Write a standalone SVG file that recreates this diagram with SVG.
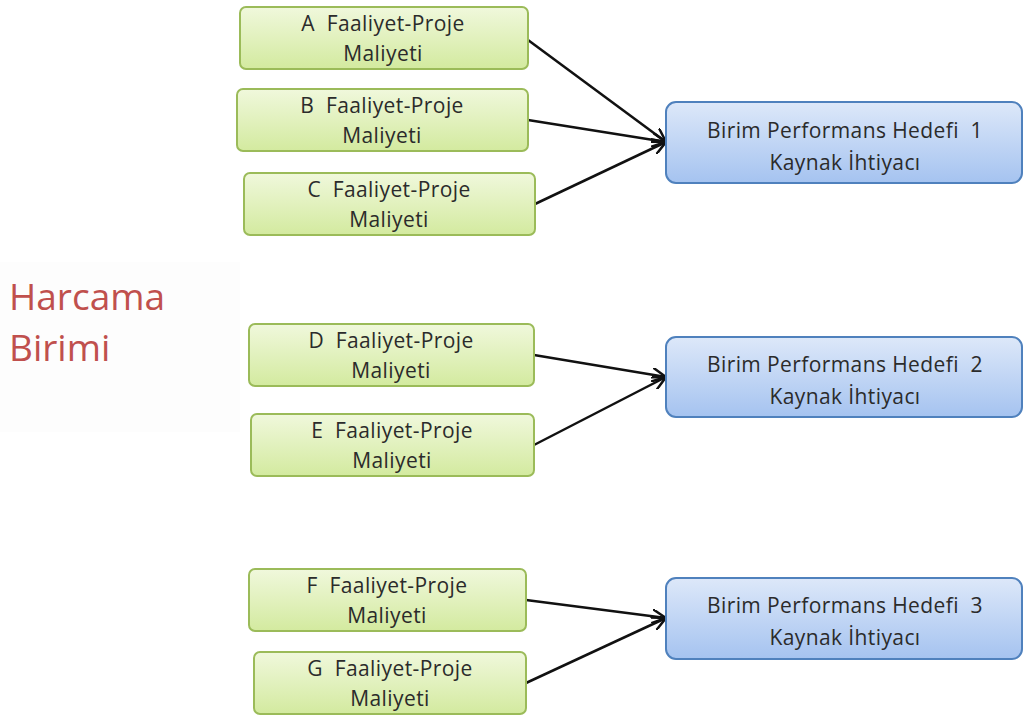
<svg xmlns="http://www.w3.org/2000/svg" width="1024" height="716" viewBox="0 0 1024 716">
<defs>
<linearGradient id="gg" x1="0" y1="0" x2="0" y2="1"><stop offset="0" stop-color="#f0f8dc"/><stop offset="1" stop-color="#d3ea9f"/></linearGradient>
<linearGradient id="bg" x1="0" y1="0" x2="0" y2="1"><stop offset="0" stop-color="#dde8f9"/><stop offset="1" stop-color="#a5c3f0"/></linearGradient>
<marker id="ah" viewBox="0 0 10 10" refX="10" refY="5" markerWidth="14" markerHeight="14" markerUnits="userSpaceOnUse" orient="auto"><path d="M0,0 L10,5 L0,10" fill="none" stroke="#111" stroke-width="1.8"/></marker>
<style>
.g{fill:url(#gg);stroke:#9bbb59;stroke-width:2}
.b{fill:url(#bg);stroke:#4f81bd;stroke-width:2}
.t{font-family:"Open Sans","Liberation Sans",sans-serif;font-size:21px;letter-spacing:0.4px;fill:#2b2b2b;text-anchor:middle;white-space:pre}
.c line{stroke:#111;stroke-width:2.5;marker-end:url(#ah)}
</style>
</defs>
<rect width="1024" height="716" fill="#fff"/>
<rect x="0" y="262" width="240" height="170" fill="#fdfdfd"/>
<text x="9" y="310" font-family="Open Sans, Liberation Sans, sans-serif" font-size="37" fill="#c0504d">Harcama</text>
<text x="9" y="361" font-family="Open Sans, Liberation Sans, sans-serif" font-size="37" fill="#c0504d">Birimi</text>
<g class="c">
<line x1="528" y1="40" x2="666" y2="142"/>
<line x1="528" y1="120" x2="666" y2="142"/>
<line x1="535" y1="204" x2="666" y2="142"/>
<line x1="534" y1="355" x2="666" y2="377"/>
<line x1="534" y1="445" x2="666" y2="377"/>
<line x1="526" y1="600" x2="666" y2="618"/>
<line x1="526" y1="683" x2="666" y2="618"/>
</g>
<g id="nA"><rect class="g" x="240" y="7" width="288" height="62" rx="6"/><text class="t" x="383" y="31" xml:space="preserve">A  Faaliyet-Proje</text><text class="t" x="383" y="61">Maliyeti</text></g>
<g id="nB"><rect class="g" x="237" y="89" width="291" height="62" rx="6"/><text class="t" x="382" y="113" xml:space="preserve">B  Faaliyet-Proje</text><text class="t" x="382" y="143">Maliyeti</text></g>
<g id="nC"><rect class="g" x="244" y="173" width="291" height="62" rx="6"/><text class="t" x="389" y="197" xml:space="preserve">C  Faaliyet-Proje</text><text class="t" x="389" y="227">Maliyeti</text></g>
<g id="nD"><rect class="g" x="249" y="324" width="285" height="62" rx="6"/><text class="t" x="391" y="348" xml:space="preserve">D  Faaliyet-Proje</text><text class="t" x="391" y="378">Maliyeti</text></g>
<g id="nE"><rect class="g" x="251" y="414" width="283" height="62" rx="6"/><text class="t" x="392" y="438" xml:space="preserve">E  Faaliyet-Proje</text><text class="t" x="392" y="468">Maliyeti</text></g>
<g id="nF"><rect class="g" x="249" y="569" width="277" height="62" rx="6"/><text class="t" x="387" y="593" xml:space="preserve">F  Faaliyet-Proje</text><text class="t" x="387" y="623">Maliyeti</text></g>
<g id="nG"><rect class="g" x="254" y="652" width="272" height="62" rx="6"/><text class="t" x="390" y="676" xml:space="preserve">G  Faaliyet-Proje</text><text class="t" x="390" y="706">Maliyeti</text></g>
<g id="h1"><rect class="b" x="666" y="102" width="356" height="81" rx="10"/><text class="t" x="845" y="138" xml:space="preserve">Birim Performans Hedefi  1</text><text class="t" x="845" y="170">Kaynak İhtiyacı</text></g>
<g id="h2"><rect class="b" x="666" y="337" width="356" height="80" rx="10"/><text class="t" x="845" y="372" xml:space="preserve">Birim Performans Hedefi  2</text><text class="t" x="845" y="404">Kaynak İhtiyacı</text></g>
<g id="h3"><rect class="b" x="666" y="578" width="356" height="81" rx="10"/><text class="t" x="845" y="613" xml:space="preserve">Birim Performans Hedefi  3</text><text class="t" x="845" y="645">Kaynak İhtiyacı</text></g>
</svg>
